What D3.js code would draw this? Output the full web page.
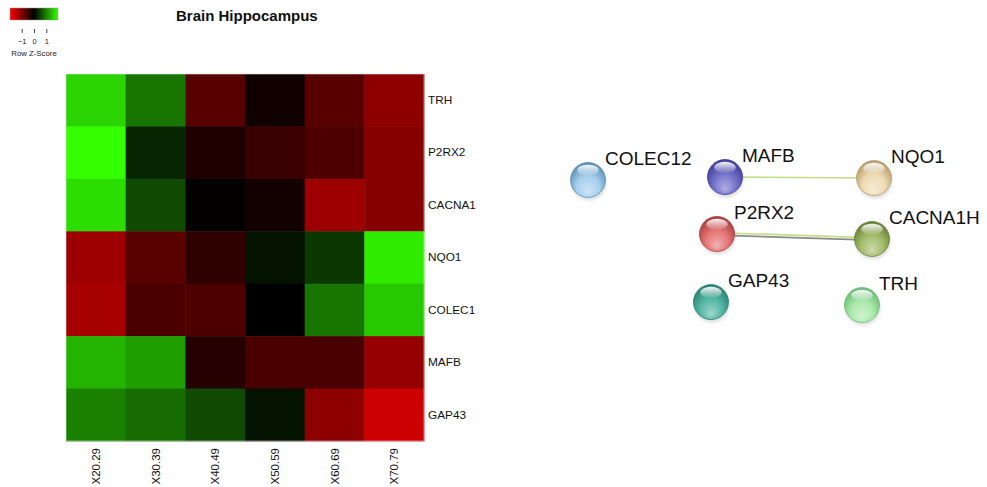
<!DOCTYPE html>
<html>
<head>
<meta charset="utf-8">
<script src="https://cdn.jsdelivr.net/npm/d3@7"></script>
<style>
  html, body { margin: 0; padding: 0; background: #fff; }
  svg { display: block; font-family: "Liberation Sans", Arial, Helvetica, sans-serif; }
</style>
</head>
<body>
<svg id="chart" width="987" height="487"></svg>
<script>
// ---- Heatmap data: row z-scores of expression per age group ----
const genes   = ["TRH", "P2RX2", "CACNA1", "NQO1", "COLEC1", "MAFB", "GAP43"];
const samples = ["X20.29", "X30.39", "X40.49", "X50.59", "X60.69", "X70.79"];
const zTRH    = [ 1.66,  0.92, -0.69, -0.13, -0.69, -1.11];
const zP2RX2  = [ 2.00,  0.29, -0.24, -0.44, -0.61, -1.06];
const zCACNA1 = [ 1.73,  0.58, -0.02, -0.15, -1.22, -1.06];
const zNQO1   = [-1.24, -0.70, -0.36,  0.14,  0.44,  1.85];
const zCOLEC1 = [-1.30, -0.58, -0.60,  0.00,  0.92,  1.57];
const zMAFB   = [ 1.41,  1.24, -0.30, -0.58, -0.57, -1.18];
const zGAP43  = [ 1.00,  0.85,  0.58,  0.14, -1.11, -1.60];
const zRows   = [zTRH, zP2RX2, zCACNA1, zNQO1, zCOLEC1, zMAFB, zGAP43];
const legendTicks = [-1, 0, 1];

// ---- Interaction network ----
const netNodes = ["COLEC12", "MAFB", "NQO1", "P2RX2", "CACNA1H", "GAP43", "TRH"];
const netEdges = [
  ["MAFB", "NQO1", "textmining"],
  ["P2RX2", "CACNA1H", "textmining"],
  ["P2RX2", "CACNA1H", "coexpression"]
];

// layout coordinates (0-100 units) for the network drawing
const netLayoutX = [0, 47.9, 100, 45.1, 99.3, 43.0, 95.8];
const netLayoutY = [2.3, 0, 0.8, 44.5, 48.4, 97.7, 100];
const nodeColors = [
  ["#a6d0ee", "#5f93bb"],
  ["#7572cc", "#43419a"],
  ["#eedcb4", "#b99f6e"],
  ["#e67676", "#ab4242"],
  ["#a4bc6c", "#6a843a"],
  ["#55b6a4", "#2b8373"],
  ["#ace9ac", "#6ebd78"]
];
const edgeColors = { textmining: "#c2dc84", coexpression: "#8a8a8a" };

const svg = d3.select("#chart");
svg.append("rect").attr("width", 987).attr("height", 487).attr("fill", "#fff");
const defs = svg.append("defs");

// ---------- Heatmap ----------
const color = d3.scaleLinear()
  .domain([-2, 0, 2])
  .range(["#ff0000", "#000000", "#33ff00"])
  .clamp(true);

const x = d3.scaleBand().domain(samples).range([66, 424]);
const y = d3.scaleBand().domain(genes).range([74, 441]);

const cells = [];
genes.forEach((g, i) => samples.forEach((s, j) => cells.push({ g, s, v: zRows[i][j] })));

svg.append("g").selectAll("rect").data(cells).join("rect")
  .attr("x", d => x(d.s))
  .attr("y", d => y(d.g))
  .attr("width", x.bandwidth() + 0.5)
  .attr("height", y.bandwidth() + 0.5)
  .attr("fill", d => color(d.v));

svg.append("rect")
  .attr("x", 66).attr("y", 74)
  .attr("width", 358).attr("height", 367)
  .attr("fill", "none").attr("stroke", "#dcdcdc").attr("stroke-width", 0.6);

// row labels
const yAxis = svg.append("g")
  .attr("transform", "translate(424,0)")
  .call(d3.axisRight(y).tickSize(0).tickPadding(4));
yAxis.select(".domain").remove();
yAxis.selectAll("text")
  .attr("font-size", "11.8px")
  .attr("font-family", "Liberation Sans, Arial, sans-serif")
  .attr("fill", "#111");

// column labels (rotated)
const xAxis = svg.append("g")
  .attr("transform", "translate(0,441)")
  .call(d3.axisBottom(x).tickSize(0).tickPadding(0));
xAxis.select(".domain").remove();
xAxis.selectAll("text")
  .attr("font-size", "11.5px")
  .attr("font-family", "Liberation Sans, Arial, sans-serif")
  .attr("fill", "#111")
  .attr("text-anchor", "end")
  .attr("dy", null)
  .attr("y", 0)
  .attr("transform", "translate(4,7) rotate(-90)")
  .attr("x", 0);

// title
svg.append("text")
  .attr("x", 176).attr("y", 21)
  .attr("font-size", "15px").attr("font-weight", "bold")
  .attr("fill", "#111")
  .text("Brain Hippocampus");

// ---------- Colour key ----------
const keyGrad = defs.append("linearGradient").attr("id", "keyGrad");
keyGrad.append("stop").attr("offset", "0%").attr("stop-color", "#ff0000");
keyGrad.append("stop").attr("offset", "50%").attr("stop-color", "#000000");
keyGrad.append("stop").attr("offset", "100%").attr("stop-color", "#33ff00");

const keyScale = d3.scaleLinear().domain([-1.95, 1.95]).range([10, 58]);
svg.append("rect")
  .attr("x", 10).attr("y", 8).attr("width", 48).attr("height", 12)
  .attr("fill", "url(#keyGrad)")
  .attr("stroke", "#999").attr("stroke-width", 0.5);

const keyAxis = svg.append("g")
  .attr("transform", "translate(0,29)")
  .call(d3.axisBottom(keyScale).tickValues(legendTicks).tickSize(4).tickPadding(6)
    .tickFormat(d3.format("d")));
keyAxis.select(".domain").remove();
keyAxis.selectAll("line").attr("stroke", "#333").attr("stroke-width", 0.9);
keyAxis.selectAll("text").attr("font-size", "7.5px").attr("fill", "#222");

svg.append("text")
  .attr("x", 34).attr("y", 56)
  .attr("text-anchor", "middle")
  .attr("font-size", "7.8px").attr("fill", "#222")
  .text("Row Z-Score");

// ---------- Network ----------
const nx = d3.scaleLinear().domain([0, 100]).range([588, 874]);
const ny = d3.scaleLinear().domain([0, 100]).range([177, 305]);
const nodes = netNodes.map((name, i) => ({
  name, x: nx(netLayoutX[i]), y: ny(netLayoutY[i]),
  base: nodeColors[i][0], edge: nodeColors[i][1], i
}));
const byName = Object.fromEntries(nodes.map(n => [n.name, n]));
const R = 17.5;

// edges (parallel evidence lines offset from each other)
const edgeGroup = svg.append("g");
netEdges.forEach(([a, b, kind]) => {
  const s = byName[a], t = byName[b];
  const siblings = netEdges.filter(e => e[0] === a && e[1] === b);
  const k = siblings.findIndex(e => e[2] === kind);
  const off = siblings.length > 1 ? (k - (siblings.length - 1) / 2) * 2.4 : 0;
  const dx = t.x - s.x, dy = t.y - s.y, L = Math.hypot(dx, dy);
  const ox = -dy / L * off, oy = dx / L * off;
  edgeGroup.append("line")
    .attr("x1", s.x + ox).attr("y1", s.y + oy)
    .attr("x2", t.x + ox).attr("y2", t.y + oy)
    .attr("stroke", edgeColors[kind])
    .attr("stroke-width", 1.7);
});

// glossy sphere gradients
nodes.forEach(n => {
  const g = defs.append("radialGradient")
    .attr("id", "ball" + n.i)
    .attr("cx", "50%").attr("cy", "62%").attr("r", "58%")
    .attr("fx", "50%").attr("fy", "85%");
  g.append("stop").attr("offset", "0%").attr("stop-color", d3.interpolateRgb(n.base, "#fff")(0.45));
  g.append("stop").attr("offset", "55%").attr("stop-color", n.base);
  g.append("stop").attr("offset", "100%").attr("stop-color", n.edge);
});
const hl = defs.append("linearGradient").attr("id", "gloss")
  .attr("x1", 0).attr("y1", 0).attr("x2", 0).attr("y2", 1);
hl.append("stop").attr("offset", "0%").attr("stop-color", "#fff").attr("stop-opacity", 0.95);
hl.append("stop").attr("offset", "100%").attr("stop-color", "#fff").attr("stop-opacity", 0.05);

const shadow = defs.append("filter").attr("id", "soft")
  .attr("x", "-50%").attr("y", "-50%").attr("width", "200%").attr("height", "200%");
shadow.append("feGaussianBlur").attr("stdDeviation", 1.6);

const nodeG = svg.append("g").selectAll("g").data(nodes).join("g")
  .attr("transform", d => `translate(${d.x},${d.y})`);

nodeG.append("ellipse")
  .attr("cx", 1).attr("cy", 3).attr("rx", R).attr("ry", R)
  .attr("fill", "#000").attr("opacity", 0.12)
  .attr("filter", "url(#soft)");
nodeG.append("circle")
  .attr("r", R)
  .attr("fill", d => `url(#ball${d.i})`)
  .attr("stroke", d => d.edge).attr("stroke-width", 0.8);
nodeG.append("ellipse")
  .attr("cx", 0).attr("cy", -R * 0.55)
  .attr("rx", R * 0.62).attr("ry", R * 0.32)
  .attr("fill", "url(#gloss)");

nodeG.append("text")
  .attr("x", 17).attr("y", -15)
  .attr("font-size", "19px")
  .attr("fill", "#111")
  .text(d => d.name);
</script>
</body>
</html>
